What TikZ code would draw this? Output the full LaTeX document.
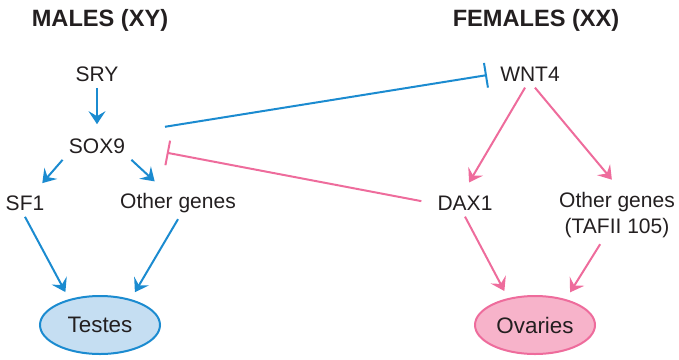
\documentclass[tikz,border=0pt]{standalone}
\usepackage{fontspec}
\setmainfont{Liberation Sans}
\usetikzlibrary{arrows.meta, positioning, shapes.geometric}
\definecolor{maleblue}{HTML}{1B8BD0}
\definecolor{femalepink}{HTML}{EE6C9C}
\definecolor{testesfill}{HTML}{C5DEF2}
\definecolor{ovaryfill}{HTML}{F7B3CA}
\definecolor{ink}{HTML}{231F20}

\begin{document}
\begin{tikzpicture}[
    x=0.5pt, y=-0.5pt, on grid,
    gene/.style={font=\fontsize{10.5}{13}\selectfont, text=ink, inner sep=3pt, align=center},
    title/.style={font=\fontsize{11.8}{14}\selectfont\bfseries, text=ink},
    organ/.style={ellipse, draw=#1, line width=1pt, minimum width=60pt, minimum height=29pt, inner sep=0pt, font=\fontsize{11.2}{13}\selectfont, text=ink},
    act/.style={-{Stealth[length=6.5pt, width=8.5pt, inset=2.5pt]}, line width=1pt, shorten >=4pt},
    inh/.style={-{Bar[width=12.5pt]}, line width=1pt}
]
    \useasboundingbox (0,0) rectangle (679,359);

    \node[title] (males) at (100,20) {MALES (XY)};
    \node[title] (females) at (536,20) {FEMALES (XX)};

    \node[gene] (sry) at (97,74) {SRY};
    \node[gene, below=36pt of sry] (sox9) {SOX9};
    \node[gene, below left=28.5pt and 36pt of sox9] (sf1) {SF1};
    \node[gene, below right=28.5pt and 40.5pt of sox9] (othm) {Other genes};
    \node[organ=maleblue, fill=testesfill, below=89.5pt of sox9, xshift=1.5pt] (testes) {Testes};

    \node[gene, right=216.5pt of sry] (wnt4) {WNT4};
    \node[gene, below left=64.5pt and 32.5pt of wnt4] (dax1) {DAX1};
    \node[gene, below right=70.5pt and 43.5pt of wnt4] (othf) {Other genes\\(TAFII 105)};
    \node[organ=femalepink, fill=ovaryfill, below=125.5pt of wnt4, xshift=2.5pt] (ovaries) {Ovaries};

    \draw[act, maleblue] (sry) -- (sox9);
    \draw[act, maleblue] (sox9.south west) -- (sf1);
    \draw[act, maleblue] (sox9.south east) -- (othm);
    \draw[act, maleblue] (sf1.south) -- (testes.140);
    \draw[act, maleblue] (othm.south) -- (testes.40);
    \draw[inh, maleblue, shorten <=17pt, shorten >=3.5pt] (sox9.north east) -- (wnt4.west);

    \draw[inh, femalepink, shorten <=5pt, shorten >=18pt] (dax1.west) -- (sox9.east);
    \draw[act, femalepink] (wnt4.-110) -- (dax1.north);
    \draw[act, femalepink] (wnt4.-70) -- (othf.north);
    \draw[act, femalepink] (dax1.south) -- (ovaries.135);
    \draw[act, femalepink] (othf.-120) -- (ovaries.40);
\end{tikzpicture}
\end{document}
